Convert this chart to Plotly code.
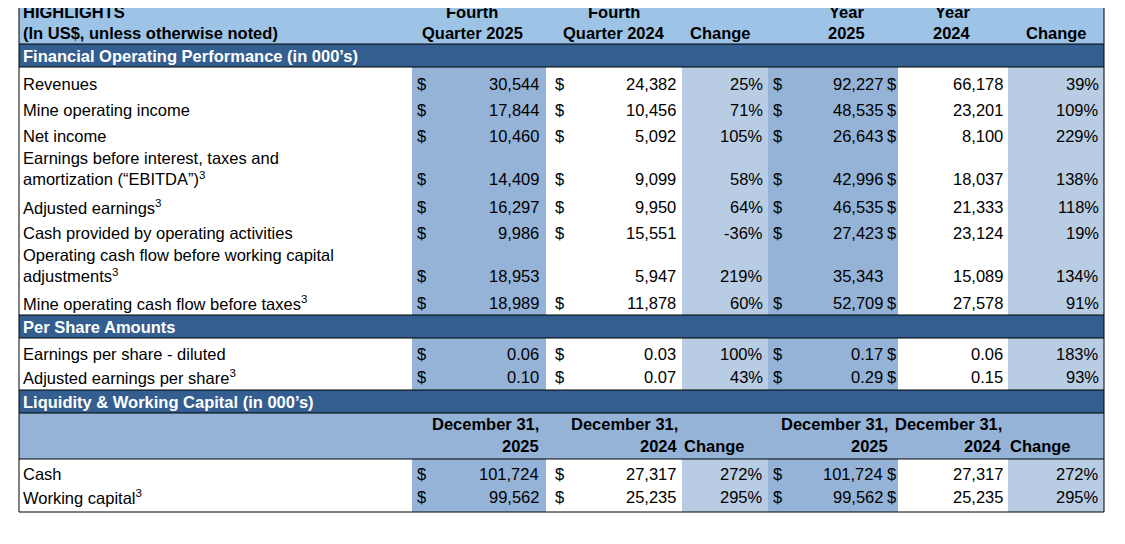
import plotly.graph_objects as go

# table data
rows = ["Revenues", "Mine operating income", "Net income",
        "Earnings before interest, taxes and<br>amortization (“EBITDA”)<sup>3</sup>",
        "Adjusted earnings<sup>3</sup>", "Cash provided by operating activities",
        "Operating cash flow before working capital<br>adjustments<sup>3</sup>",
        "Mine operating cash flow before taxes<sup>3</sup>"]
q4_2025 = ["30,544", "17,844", "10,460", "14,409", "16,297", "9,986", "18,953", "18,989"]
q4_2024 = ["24,382", "10,456", "5,092", "9,099", "9,950", "15,551", "5,947", "11,878"]
q_change = ["25%", "71%", "105%", "58%", "64%", "-36%", "219%", "60%"]
y_2025 = ["92,227", "48,535", "26,643", "42,996", "46,535", "27,423", "35,343", "52,709"]
y_2024 = ["66,178", "23,201", "8,100", "18,037", "21,333", "23,124", "15,089", "27,578"]
y_change = ["39%", "109%", "229%", "138%", "118%", "19%", "134%", "91%"]
dollars = [(1, 1, 1, 1), (1, 1, 1, 1), (1, 1, 1, 1), (1, 1, 1, 1), (1, 1, 1, 1), (1, 1, 1, 1), (1, 0, 0, 0), (1, 1, 1, 1)]
row_y = [84, 110, 136, 168, 207, 233, 265, 303]

ps_rows = ["Earnings per share - diluted", "Adjusted earnings per share<sup>3</sup>"]
ps_q4_2025 = ["0.06", "0.10"]
ps_q4_2024 = ["0.03", "0.07"]
ps_q_change = ["100%", "43%"]
ps_y_2025 = ["0.17", "0.29"]
ps_y_2024 = ["0.06", "0.15"]
ps_y_change = ["183%", "93%"]
ps_y = [354, 377]

lq_rows = ["Cash", "Working capital<sup>3</sup>"]
lq_q4_2025 = ["101,724", "99,562"]
lq_q4_2024 = ["27,317", "25,235"]
lq_q_change = ["272%", "295%"]
lq_y_2025 = ["101,724", "99,562"]
lq_y_2024 = ["27,317", "25,235"]
lq_y_change = ["272%", "295%"]
lq_y = [474, 497]

LIGHT = "#9DC3E6"
DARK = "#335E8F"
MED = "#95B3D7"
PALE = "#B8CCE4"
FONT = "Liberation Sans, Arial"
OFF = 8  # page body margin

fig = go.Figure()
shapes = []
ann = []

def rect(x0, y0, x1, y1, color):
    shapes.append(dict(type="rect", x0=x0, x1=x1, y0=y0, y1=y1, fillcolor=color,
                       line=dict(width=0), layer="below"))

def line(x0, y0, x1, y1, w=1):
    shapes.append(dict(type="line", x0=x0, x1=x1, y0=y0, y1=y1, line=dict(color="black", width=w)))

def txt(x, y, s, anchor="left", color="black", bold=False, size=16.5):
    if bold:
        s = "<b>" + s + "</b>"
    ann.append(dict(x=x, y=y, text=s, xanchor=anchor, yanchor="middle", showarrow=False,
                    align=anchor if anchor != "center" else "center",
                    font=dict(family=FONT, size=size, color=color)))

# backgrounds
rect(19, 3, 1104, 44, LIGHT)
for (a, b) in [(67, 315), (338, 390), (459, 512)]:
    rect(412, a, 546, b, MED)
    rect(682, a, 768, b, PALE)
    rect(768, a, 898, b, MED)
    rect(1008, a, 1104, b, PALE)
for (a, b) in [(44, 67), (315, 338), (390, 413)]:
    rect(19, a, 1104, b, DARK)
rect(19, 413, 1104, 459, MED)

# borders
line(19, 3, 1104, 3)
line(19, 512, 1104, 512)
line(19, 3, 19, 512)
line(1104, 3, 1104, 512)
for yy in [44, 67, 315, 338, 390, 413, 459]:
    line(19, yy, 1104, yy)

# header
txt(21, 12, "HIGHLIGHTS", bold=True)
txt(21, 33, "(In US$, unless otherwise noted)", bold=True)
for cx, l1, l2 in [(472, "Fourth", "Quarter 2025"), (614, "Fourth", "Quarter 2024"),
                   (846, "Year", "2025"), (952, "Year", "2024")]:
    txt(cx, 12, l1, "center", bold=True)
    txt(cx, 33, l2, "center", bold=True)
txt(720, 33, "Change", "center", bold=True)
txt(1056, 33, "Change", "center", bold=True)

txt(21, 56, "Financial Operating Performance (in 000’s)", color="white", bold=True)
txt(21, 327, "Per Share Amounts", color="white", bold=True)
txt(21, 402, "Liquidity & Working Capital (in 000’s)", color="white", bold=True)

def data_row(y, label, v1, v2, c1, v3, v4, c2, d=(1, 1, 1, 1)):
    if label:
        txt(21, y, label)
    if d[0]: txt(415, y, "$")
    txt(541, y, v1, "right")
    if d[1]: txt(553, y, "$")
    txt(678, y, v2, "right")
    txt(765, y, c1, "right")
    if d[2]: txt(771, y, "$")
    txt(885, y, v3, "right")
    if d[3]: txt(885, y, "$")
    txt(1005, y, v4, "right")
    txt(1101, y, c2, "right")

for i in range(len(rows)):
    yy = row_y[i]
    if "<br>" in rows[i]:
        txt(21, yy, rows[i])
        data_row(yy + 11, "", q4_2025[i], q4_2024[i], q_change[i], y_2025[i], y_2024[i], y_change[i], dollars[i])
    else:
        data_row(yy, rows[i], q4_2025[i], q4_2024[i], q_change[i], y_2025[i], y_2024[i], y_change[i], dollars[i])

for i in range(len(ps_rows)):
    data_row(ps_y[i], ps_rows[i], ps_q4_2025[i], ps_q4_2024[i], ps_q_change[i],
             ps_y_2025[i], ps_y_2024[i], ps_y_change[i])

# liquidity sub header
for xr, yr in [(541, "2025"), (680, "2024"), (890, "2025"), (1004, "2024")]:
    txt(xr, 424, "December 31,", "right", bold=True)
    txt(xr, 446, yr, "right", bold=True)
txt(682, 446, "Change", bold=True)
txt(1008, 446, "Change", bold=True)

for i in range(len(lq_rows)):
    data_row(lq_y[i], lq_rows[i], lq_q4_2025[i], lq_q4_2024[i], lq_q_change[i],
             lq_y_2025[i], lq_y_2024[i], lq_y_change[i])

fig.update_layout(
    width=1125, height=544, margin=dict(l=0, r=0, t=0, b=0),
    plot_bgcolor="white", paper_bgcolor="white",
    xaxis=dict(range=[OFF, 1125 + OFF], visible=False, fixedrange=True),
    yaxis=dict(range=[544 + OFF, OFF], visible=False, fixedrange=True),
    shapes=shapes, annotations=ann, showlegend=False,
)
fig.write_html("out.html")
